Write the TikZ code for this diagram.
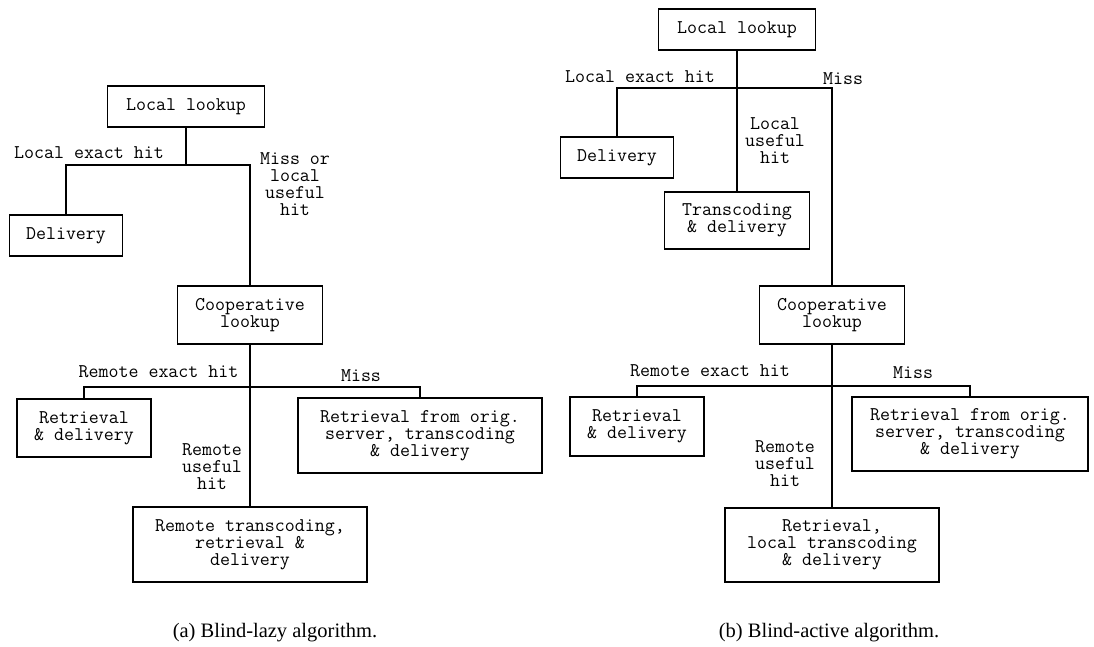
\documentclass[tikz,border=0pt]{standalone}
\usepackage{fontspec}
\setmainfont{Liberation Serif}
\begin{document}
\begin{tikzpicture}[x=1pt,y=-1pt,
  box/.style={draw, line width=1.8pt, inner sep=0pt, align=center, font=\ttfamily\fontsize{19.4}{17}\selectfont},
  lbl/.style={inner sep=0pt, align=center, font=\ttfamily\fontsize{19.4}{17}\selectfont},
  conn/.style={line width=1.8pt},
  captxt/.style={inner sep=0pt, font=\fontsize{20.5}{24}\selectfont}]
\useasboundingbox (0,0) rectangle (1094,646);

% ---------- (a) ----------
\node[box, minimum width=157pt, minimum height=41pt] (LLa) at (186,106.5) {Local lookup};
\node[box, minimum width=113pt, minimum height=41pt] (Dela) at (66,235.5) {Delivery};
\node[box, minimum width=145pt, minimum height=58pt] (Coopa) at (250,315) {Cooperative\\lookup};
\node[box, minimum width=134pt, minimum height=58pt] (RDa) at (84,428) {Retrieval\\\& delivery};
\node[box, minimum width=244pt, minimum height=75pt] (Missa) at (420,435.5) {Retrieval from orig.\\server, transcoding\\\& delivery};
\node[box, minimum width=234pt, minimum height=75pt] (RTa) at (250,544.5) {Remote transcoding,\\retrieval \&\\delivery};

\coordinate (ja) at (186,165);
\coordinate (ka) at (250,387);
\draw[conn] (LLa.south) -- (ja);
\draw[conn] (Dela.north) |- (ja) -| (Coopa.north);
\draw[conn] (Coopa.south) -- (RTa.north);
\draw[conn] (RDa.north) |- (ka) -| (Missa.north);

\node[lbl] (la1) at (89,153) {Local exact hit};
\node[lbl] (la2) at (295,184.5) {Miss or\\local\\useful\\hit};
\node[lbl] (la3) at (158.5,372) {Remote exact hit};
\node[lbl] (la4) at (361,376) {Miss};
\node[lbl] (la5) at (212,467) {Remote\\useful\\hit};

\node[captxt] (capa) at (275,633) {(a) Blind-lazy algorithm.};

% ---------- (b) ----------
\node[box, minimum width=157pt, minimum height=41pt] (LLb) at (737,29.5) {Local lookup};
\node[box, minimum width=113pt, minimum height=41pt] (Delb) at (617,157.5) {Delivery};
\node[box, minimum width=145pt, minimum height=57pt] (TDb) at (737,220.5) {Transcoding\\\& delivery};
\node[box, minimum width=145pt, minimum height=58pt] (Coopb) at (832,315) {Cooperative\\lookup};
\node[box, minimum width=134pt, minimum height=59pt] (RDb) at (637,426.5) {Retrieval\\\& delivery};
\node[box, minimum width=236pt, minimum height=74pt] (Missb) at (970,434) {Retrieval from orig.\\server, transcoding\\\& delivery};
\node[box, minimum width=214pt, minimum height=74pt] (RLTb) at (832,545) {Retrieval,\\local transcoding\\\& delivery};

\coordinate (jb) at (737,88);
\coordinate (kb) at (832,386);
\draw[conn] (LLb.south) -- (TDb.north);
\draw[conn] (Delb.north) |- (jb) -| (Coopb.north);
\draw[conn] (Coopb.south) -- (RLTb.north);
\draw[conn] (RDb.north) |- (kb) -| (Missb.north);

\node[lbl] (lb1) at (640,77) {Local exact hit};
\node[lbl] (lb2) at (843,79) {Miss};
\node[lbl] (lb3) at (775,140.5) {Local\\useful\\hit};
\node[lbl] (lb4) at (710,371) {Remote exact hit};
\node[lbl] (lb5) at (913,373) {Miss};
\node[lbl] (lb6) at (785,464) {Remote\\useful\\hit};

\node[captxt] (capb) at (829,633) {(b) Blind-active algorithm.};
\end{tikzpicture}
\end{document}
